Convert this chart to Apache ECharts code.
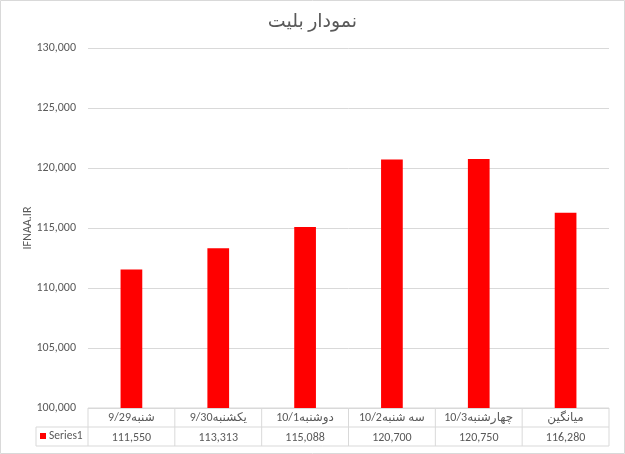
<!DOCTYPE html>
<html><head><meta charset="utf-8">
<script src="https://cdn.jsdelivr.net/npm/echarts@6/dist/echarts.min.js"></script>
<style>html,body{margin:0;padding:0;background:#fff}#c{width:625px;height:454px}</style>
</head><body><div id="c"></div>
<script>
const titleText = 'نمودار بلیت';
const categories = ['شنبه9/29', 'یکشنبه9/30', 'دوشنبه10/1', 'سه شنبه10/2', 'چهارشنبه10/3', 'میانگین'];
const seriesName = 'Series1';
const values = [111550, 113313, 115088, 120700, 120750, 116280];
const yMin = 100000, yMax = 130000, yStep = 5000;
const yAxisName = 'IFNAA.IR';

const fmt = v => v.toLocaleString('en-US');
const font = "Calibri, Carlito, 'Liberation Sans', 'DejaVu Sans', sans-serif";
const txt = '#595959', line = '#d9d9d9';

const chart = echarts.init(document.getElementById('c'));
chart.setOption({
  animation: false,
  title: { text: titleText, left: 'center', top: 8, textStyle: { fontFamily: font, fontSize: 19, fontWeight: 'normal', color: txt } },
  legend: { data: [seriesName], left: 40, top: 430, padding: 0, itemWidth: 6, itemHeight: 6, itemGap: 4, icon: 'rect',
    textStyle: { fontFamily: font, fontSize: 11.5, color: txt, padding: [0, 0, 0, -2] } },
  grid: { left: 88, right: 16, top: 48, bottom: 46 },
  xAxis: [
    { type: 'category', data: categories, axisLine: { show: false }, axisTick: { show: false },
      axisLabel: { margin: 4, fontFamily: font, fontSize: 12, color: txt, interval: 0 } },
    { type: 'category', data: categories, position: 'bottom', offset: 20, axisLine: { show: false }, axisTick: { show: false },
      axisLabel: { margin: 4, fontFamily: font, fontSize: 12, color: txt, interval: 0, formatter: (v, i) => fmt(values[i]) } }
  ],
  yAxis: { type: 'value', min: yMin, max: yMax, interval: yStep,
    name: yAxisName, nameLocation: 'middle', nameGap: 54, nameRotate: 90, nameMoveOverlap: false,
    nameTextStyle: { fontFamily: font, fontSize: 12, color: txt },
    axisLine: { show: false }, axisTick: { show: false },
    axisLabel: { margin: 12, fontFamily: font, fontSize: 12, color: txt, formatter: v => fmt(v) },
    splitLine: { lineStyle: { color: line, width: 1 } } },
  series: [{ name: seriesName, type: 'bar', data: values, barWidth: '25%', itemStyle: { color: '#ff0000' } }]
});

// data table lines derived from grid geometry
const rect = chart.getModel().getComponent('grid').coordinateSystem.getRect();
const x0 = rect.x, x1 = rect.x + rect.width, yTop = rect.y + rect.height;
const rowH = 19, yMid = yTop + rowH, yBot = yTop + 2 * rowH, legLeft = 36;
const colW = rect.width / categories.length;
const els = [];
const L = (a, b, c, d) => els.push({ type: 'line', shape: { x1: a, y1: b, x2: c, y2: d }, style: { stroke: line, lineWidth: 1 }, silent: true });
L(x0, yTop, x1, yTop);
L(legLeft, yMid, x1, yMid);
L(legLeft, yBot, x1, yBot);
L(legLeft, yMid, legLeft, yBot);
for (let i = 0; i <= categories.length; i++) L(x0 + i * colW, yTop, x0 + i * colW, yBot);
els.push({ type: 'rect', shape: { x: 0.5, y: 0.5, width: 624, height: 453 }, style: { fill: 'none', stroke: line, lineWidth: 1 }, silent: true });
chart.setOption({ graphic: { elements: els } });
</script></body></html>
